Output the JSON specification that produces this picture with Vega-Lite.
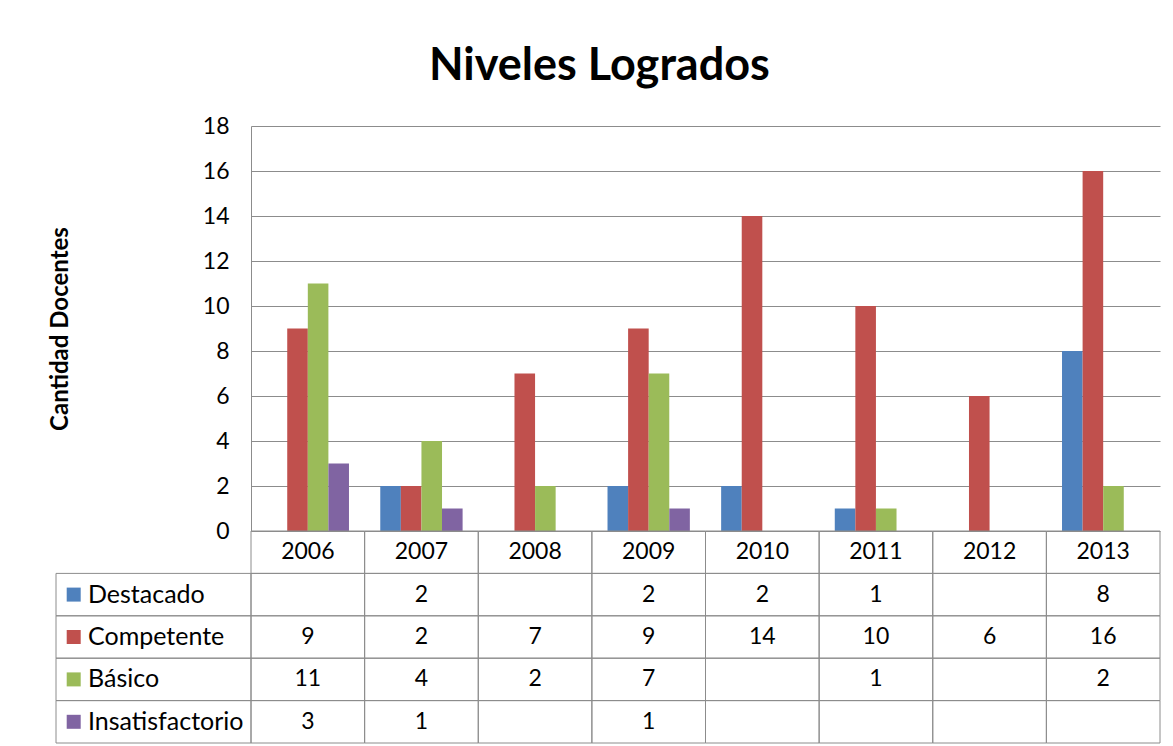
{
  "$schema": "https://vega.github.io/schema/vega-lite/v6.json",
  "background": "white",
  "padding": {"left": 48, "top": 44, "right": 5, "bottom": 2},
  "title": {"text": "Niveles Logrados", "fontSize": 45, "font": "Lato", "fontWeight": "bold", "color": "#000000", "anchor": "middle", "offset": 26, "dx": -5},
  "datasets": {
    "niveles": [
      {"year": "2006", "series": "Destacado", "value": null},
      {"year": "2006", "series": "Competente", "value": 9},
      {"year": "2006", "series": "Básico", "value": 11},
      {"year": "2006", "series": "Insatisfactorio", "value": 3},
      {"year": "2007", "series": "Destacado", "value": 2},
      {"year": "2007", "series": "Competente", "value": 2},
      {"year": "2007", "series": "Básico", "value": 4},
      {"year": "2007", "series": "Insatisfactorio", "value": 1},
      {"year": "2008", "series": "Destacado", "value": null},
      {"year": "2008", "series": "Competente", "value": 7},
      {"year": "2008", "series": "Básico", "value": 2},
      {"year": "2008", "series": "Insatisfactorio", "value": null},
      {"year": "2009", "series": "Destacado", "value": 2},
      {"year": "2009", "series": "Competente", "value": 9},
      {"year": "2009", "series": "Básico", "value": 7},
      {"year": "2009", "series": "Insatisfactorio", "value": 1},
      {"year": "2010", "series": "Destacado", "value": 2},
      {"year": "2010", "series": "Competente", "value": 14},
      {"year": "2010", "series": "Básico", "value": null},
      {"year": "2010", "series": "Insatisfactorio", "value": null},
      {"year": "2011", "series": "Destacado", "value": 1},
      {"year": "2011", "series": "Competente", "value": 10},
      {"year": "2011", "series": "Básico", "value": 1},
      {"year": "2011", "series": "Insatisfactorio", "value": null},
      {"year": "2012", "series": "Destacado", "value": null},
      {"year": "2012", "series": "Competente", "value": 6},
      {"year": "2012", "series": "Básico", "value": null},
      {"year": "2012", "series": "Insatisfactorio", "value": null},
      {"year": "2013", "series": "Destacado", "value": 8},
      {"year": "2013", "series": "Competente", "value": 16},
      {"year": "2013", "series": "Básico", "value": 2},
      {"year": "2013", "series": "Insatisfactorio", "value": null}
    ],
    "series": [
      {"series": "Destacado"},
      {"series": "Competente"},
      {"series": "Básico"},
      {"series": "Insatisfactorio"}
    ],
    "years": [
      {"year": "2006"}, {"year": "2007"}, {"year": "2008"}, {"year": "2009"},
      {"year": "2010"}, {"year": "2011"}, {"year": "2012"}, {"year": "2013"}
    ]
  },
  "columns": 2,
  "spacing": 0,
  "bounds": "flush",
  "concat": [
    {
      "width": 195,
      "height": 405,
      "data": {"values": []},
      "mark": "text"
    },
    {
      "width": 909,
      "height": 405,
      "data": {"name": "niveles"},
      "transform": [{"filter": "isValid(datum.value)"}],
      "mark": {"type": "bar"},
      "encoding": {
        "x": {"field": "year", "type": "nominal", "scale": {"domain": ["2006","2007","2008","2009","2010","2011","2012","2013"], "paddingInner": 0, "paddingOuter": 0}, "axis": null},
        "xOffset": {"field": "series", "type": "nominal", "scale": {"domain": ["Destacado","Competente","Básico","Insatisfactorio"], "paddingInner": 0, "paddingOuter": 0.76}},
        "y": {"field": "value", "type": "quantitative", "scale": {"domain": [0, 18]},
          "axis": {"values": [0,2,4,6,8,10,12,14,16,18], "grid": true, "gridColor": "#8c8c8c", "domain": true, "domainColor": "#8c8c8c", "ticks": false,
            "labelFont": "Lato", "labelFontSize": 23, "labelColor": "#000000", "labelPadding": 22,
            "title": "Cantidad Docentes", "titleFont": "Lato", "titleFontSize": 24, "titleFontWeight": "bold", "titleColor": "#000000", "titlePadding": 130}},
        "color": {"field": "series", "type": "nominal", "scale": {"domain": ["Destacado","Competente","Básico","Insatisfactorio"], "range": ["#4F81BD","#C0504D","#9BBB59","#8064A2"]}, "legend": null}
      }
    },
    {
      "width": 195,
      "height": 212,
      "data": {"name": "series"},
      "encoding": {
        "y": {"field": "series", "type": "nominal", "scale": {"domain": ["hdr","Destacado","Competente","Básico","Insatisfactorio"], "paddingInner": 0, "paddingOuter": 0}, "axis": null}
      },
      "layer": [
        {"mark": {"type": "rect", "fill": "transparent", "stroke": "#8c8c8c", "strokeWidth": 1}},
        {"mark": {"type": "point", "shape": "square", "size": 196, "filled": true, "opacity": 1, "xOffset": 17.7},
         "encoding": {
           "x": {"datum": 0, "type": "quantitative", "scale": {"domain": [0, 1]}, "axis": null},
           "color": {"field": "series", "type": "nominal", "scale": {"domain": ["Destacado","Competente","Básico","Insatisfactorio"], "range": ["#4F81BD","#C0504D","#9BBB59","#8064A2"]}, "legend": null}
         }},
        {"mark": {"type": "text", "align": "left", "baseline": "middle", "dx": 32, "font": "Lato", "fontSize": 25, "color": "#000000"},
         "encoding": {
           "x": {"datum": 0, "type": "quantitative", "scale": {"domain": [0, 1]}, "axis": null},
           "text": {"field": "series", "type": "nominal"}
         }}
      ]
    },
    {
      "width": 909,
      "height": 212,
      "encoding": {
        "x": {"field": "year", "type": "nominal", "scale": {"domain": ["2006","2007","2008","2009","2010","2011","2012","2013"], "paddingInner": 0, "paddingOuter": 0}, "axis": null}
      },
      "layer": [
        {"data": {"name": "niveles"},
         "mark": {"type": "rect", "fill": "transparent", "stroke": "#8c8c8c", "strokeWidth": 1},
         "encoding": {"y": {"field": "series", "type": "nominal", "scale": {"domain": ["hdr","Destacado","Competente","Básico","Insatisfactorio"], "paddingInner": 0, "paddingOuter": 0}, "axis": null}}},
        {"data": {"name": "niveles"},
         "transform": [{"filter": "isValid(datum.value)"}],
         "mark": {"type": "text", "baseline": "middle", "align": "center", "font": "Lato", "fontSize": 23, "color": "#000000"},
         "encoding": {"y": {"field": "series", "type": "nominal", "axis": null}, "text": {"field": "value", "type": "nominal"}}},
        {"data": {"name": "years"},
         "mark": {"type": "rect", "fill": "transparent", "stroke": "#8c8c8c", "strokeWidth": 1},
         "encoding": {"y": {"datum": "hdr", "type": "nominal", "axis": null}}},
        {"data": {"name": "years"},
         "mark": {"type": "text", "baseline": "middle", "align": "center", "font": "Lato", "fontSize": 23, "color": "#000000"},
         "encoding": {"y": {"datum": "hdr", "type": "nominal", "axis": null}, "text": {"field": "year", "type": "nominal"}}}
      ]
    }
  ],
  "config": {"view": {"stroke": null}, "font": "Lato"}
}
